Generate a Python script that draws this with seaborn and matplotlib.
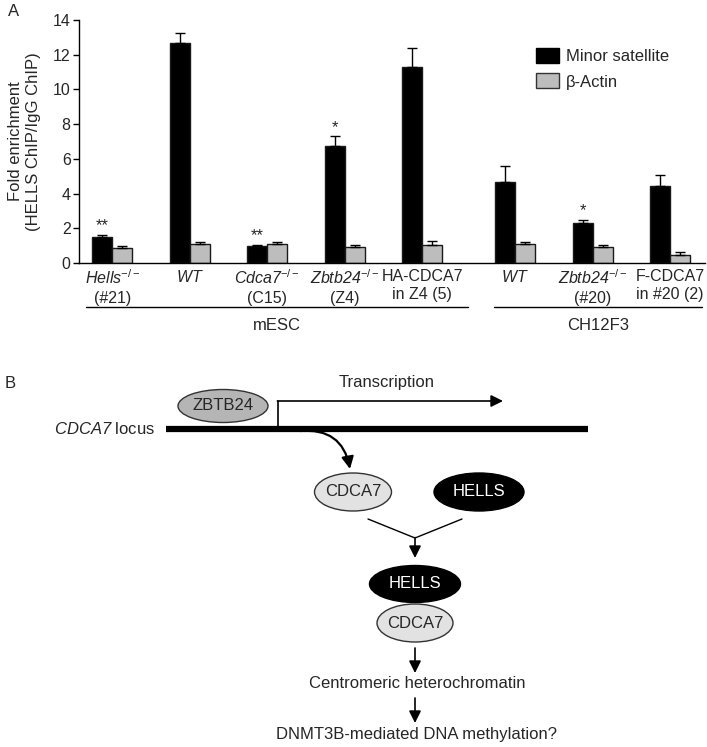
import numpy as np
import pandas as pd
import matplotlib
matplotlib.use("Agg")
import matplotlib.pyplot as plt
import seaborn as sns
from matplotlib.patches import Ellipse, Patch

# Panel A data
tick_labels = [
    r"$\mathsf{Hells}^{-/-}$" + "\n(#21)",
    r"$\mathsf{WT}$",
    r"$\mathsf{Cdca7}^{-/-}$" + "\n(C15)",
    r"$\mathsf{Zbtb24}^{-/-}$" + "\n(Z4)",
    "HA-CDCA7\nin Z4 (5)",
    r"$\mathsf{WT}$",
    r"$\mathsf{Zbtb24}^{-/-}$" + "\n(#20)",
    "F-CDCA7\nin #20 (2)",
]
minor_sat = [1.47, 12.66, 0.96, 6.75, 11.28, 4.66, 2.32, 4.43]
minor_sat_err = [0.15, 0.57, 0.09, 0.54, 1.09, 0.94, 0.15, 0.65]
actin = [0.86, 1.09, 1.09, 0.92, 1.02, 1.09, 0.92, 0.48]
actin_err = [0.10, 0.12, 0.12, 0.10, 0.23, 0.14, 0.12, 0.13]
stars = ["**", "", "**", "*", "", "", "*", ""]
targets = ["Minor satellite", "β-Actin"]

# layout: x position of each group (gap between the two cell lines)
group_pos = [0, 1, 2, 3, 4, 5.2, 6.2, 7.2]

df = pd.DataFrame({
    "pos": group_pos * 2,
    "value": minor_sat + actin,
    "target": [targets[0]] * 8 + [targets[1]] * 8,
})

sns.set_style("ticks")
plt.rcParams["font.family"] = ["Liberation Sans", "DejaVu Sans"]
plt.rcParams["mathtext.fontset"] = "custom"
plt.rcParams["mathtext.rm"] = "Liberation Sans"
plt.rcParams["mathtext.it"] = "Liberation Sans:italic"
plt.rcParams["mathtext.sf"] = "Liberation Sans:italic"

fig = plt.figure(figsize=(7.07, 7.47), dpi=100)

# overlay in pixel coordinates for the diagram and annotations
axB = fig.add_axes([0, 0, 1, 1])
axB.set_xlim(0, 707)
axB.set_ylim(747, 0)
axB.axis("off")

ax = fig.add_axes([79 / 707, 1 - 263 / 747, (705 - 79) / 707, (263 - 20) / 747])
black = "black"
grey = "#bdbdbd"
sns.barplot(data=df, x="pos", y="value", hue="target", hue_order=targets,
            native_scale=True, width=0.52, palette=[black, grey],
            edgecolor="#1a1a1a", linewidth=1, errorbar=None, legend=False, ax=ax)

# one-sided error bars + significance marks
for cont, errs, sig in zip(ax.containers, [minor_sat_err, actin_err], [stars, [""] * 8]):
    xs = [b.get_x() + b.get_width() / 2 for b in cont]
    hs = [b.get_height() for b in cont]
    ax.errorbar(xs, hs, yerr=[np.zeros(len(errs)), errs], fmt="none",
                ecolor="black", elinewidth=1, capsize=3.5, capthick=1, zorder=1)
    for x, h, e, s in zip(xs, hs, errs, sig):
        if s:
            ax.text(x, h + e + 0.1, s, ha="center", va="bottom", fontsize=12)

ax.set_xlim(-0.43, 7.65)
ax.set_ylim(0, 14)
ax.set_yticks(range(0, 15, 2))
ax.set_xticks(group_pos)
ax.set_xticklabels(tick_labels, linespacing=1.3)
ax.set_xlabel("")
ax.set_ylabel("Fold enrichment\n(HELLS ChIP/IgG ChIP)", fontsize=12, linespacing=1.25)
ax.yaxis.set_label_coords(-0.06, 0.5)
ax.tick_params(axis="x", length=0, labelsize=11.5, pad=4)
ax.tick_params(axis="y", length=4, width=1, labelsize=11.5, pad=2, color="black")
sns.despine(ax=ax)
for sp in ["left", "bottom"]:
    ax.spines[sp].set_linewidth(1)
    ax.spines[sp].set_color("black")

ax.legend(handles=[Patch(fc=black, ec="black", label=targets[0]),
                   Patch(fc=grey, ec="#333333", label=targets[1])],
          loc="upper left", bbox_to_anchor=(536 / 707, 1 - 48 / 747),
          bbox_transform=fig.transFigure, frameon=False, fontsize=12,
          handlelength=1.35, handleheight=1.0, handletextpad=0.45,
          labelspacing=0.55, borderpad=0, borderaxespad=0)

# cell line brackets
axB.plot([86, 468], [307, 307], color="black", lw=1)
axB.plot([494, 702], [307, 307], color="black", lw=1)
axB.text(277, 325, "mESC", ha="center", va="center", fontsize=12)
axB.text(598, 325, "CH12F3", ha="center", va="center", fontsize=12)

fig.text(8 / 707, 1 - 12 / 747, "A", ha="left", va="center", fontsize=12)
fig.text(5 / 707, 1 - 384 / 747, "B", ha="left", va="center", fontsize=12)

# Panel B diagram
arrow_kw = dict(arrowstyle="-|>,head_length=0.6,head_width=0.3", color="black",
                lw=1.2, mutation_scale=12, shrinkA=0, shrinkB=0)
light = "#e2e2e2"
mid = "#b5b5b5"

axB.plot([166, 588], [429, 429], color="black", lw=4.5, solid_capstyle="butt")
axB.text(155, 429, r"$\mathsf{CDCA7}$ locus", ha="right", va="center", fontsize=12)
axB.add_patch(Ellipse((223, 406), 90, 33, fc=mid, ec="#333333", lw=1))
axB.text(223, 406, "ZBTB24", ha="center", va="center", fontsize=12)

axB.plot([278, 278], [428, 401], color="black", lw=1.2)
axB.annotate("", xy=(503, 401), xytext=(277.4, 401), arrowprops=arrow_kw)
axB.text(387, 383, "Transcription", ha="center", va="center", fontsize=12)

curve_kw = dict(arrow_kw, lw=1.6, connectionstyle="arc3,rad=-0.45")
axB.annotate("", xy=(350, 469), xytext=(300, 431), arrowprops=curve_kw)

axB.add_patch(Ellipse((353, 492), 77, 38, fc=light, ec="#333333", lw=1))
axB.text(353, 492, "CDCA7", ha="center", va="center", fontsize=12)
axB.add_patch(Ellipse((479, 492), 90, 38, fc="black", ec="black", lw=1))
axB.text(479, 492, "HELLS", ha="center", va="center", fontsize=12, color="white")

axB.plot([368, 415, 462], [519, 538, 519], color="black", lw=1)
axB.annotate("", xy=(415, 558), xytext=(415, 537.5), arrowprops=arrow_kw)

axB.add_patch(Ellipse((415, 584), 91, 37, fc="black", ec="black", lw=1))
axB.text(415, 584, "HELLS", ha="center", va="center", fontsize=12, color="white")
axB.add_patch(Ellipse((415, 623), 76, 38, fc=light, ec="#333333", lw=1))
axB.text(415, 623, "CDCA7", ha="center", va="center", fontsize=12)

axB.annotate("", xy=(415, 673), xytext=(415, 648), arrowprops=arrow_kw)
axB.text(417, 684, "Centromeric heterochromatin", ha="center", va="center", fontsize=12)
axB.annotate("", xy=(415, 723), xytext=(415, 698), arrowprops=arrow_kw)
axB.text(417, 735, "DNMT3B-mediated DNA methylation?", ha="center", va="center", fontsize=12)

fig.savefig("out.png", dpi=100)
